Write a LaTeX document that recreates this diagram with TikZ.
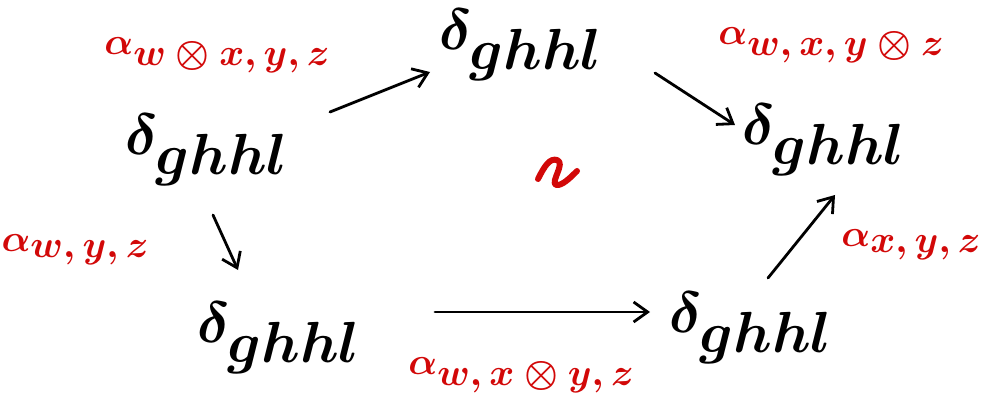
\documentclass[tikz,border=0pt]{standalone}
\usepackage{graphicx}
\usetikzlibrary{arrows.meta,calc}
\definecolor{labred}{RGB}{210,8,8}
\newcommand{\objtext}[1]{\scalebox{2.9}{\boldmath$#1$}}
\newcommand{\labtext}[1]{\scalebox{1.9}{\boldmath$#1$}}
\begin{document}
\begin{tikzpicture}[x=0.5pt,y=-0.5pt,
  obj/.style={inner sep=0pt},
  lab/.style={text=labred, inner sep=0pt},
  arr/.style={-{Straight Barb[length=7pt,width=10pt]}, line width=1.4pt, line cap=round},
  twocell/.style={draw=labred, line width=3pt, line cap=round, line join=round}]
\useasboundingbox (0,0) rectangle (989,395);

% the five objects of the pentagon
\node[obj] (T)  at (522,45)  {\objtext{\delta_{\textstyle ghhl}}};
\node[obj] (L)  at (208,150) {\objtext{\delta_{\textstyle ghhl}}};
\node[obj] (R)  at (825,140) {\objtext{\delta_{\textstyle ghhl}}};
\node[obj] (BL) at (280,338) {\objtext{\delta_{\textstyle ghhl}}};
\node[obj] (BR) at (752,328) {\objtext{\delta_{\textstyle ghhl}}};

% associators along the edges
\draw[arr] ($(L)+(122,-38)$)  -- ($(T)+(-92,27)$);
\draw[arr] ($(T)+(133,28)$)   -- ($(R)+(-90,-15)$);
\draw[arr] ($(L)+(5,65)$)     -- ($(L)+(30,120)$);
\draw[arr] ($(BL)+(155,-26)$) -- ($(BR)+(-102,-16)$);
\draw[arr] ($(BR)+(16,-50)$)  -- ($(R)+(10,55)$);

% edge labels
\node[lab] (a1) at (218,55)  {\labtext{\alpha_{\textstyle w\otimes x,y,z}}};
\node[lab] (a2) at (832,45)  {\labtext{\alpha_{\textstyle w,x,y\otimes z}}};
\node[lab] (a3) at (76,250)  {\labtext{\alpha_{\textstyle w,y,z}}};
\node[lab] (a4) at (522,375) {\labtext{\alpha_{\textstyle w,x\otimes y,z}}};
\node[lab] (a5) at (912,245) {\labtext{\alpha_{\textstyle x,y,z}}};

% the 2-cell filling the pentagon
\draw[twocell] (538,179) .. controls (545,165) and (550,158) .. (557,160)
  .. controls (566,163) and (550,182) .. (556,185)
  .. controls (562,186) and (570,178) .. (577,171);
\end{tikzpicture}
\end{document}
